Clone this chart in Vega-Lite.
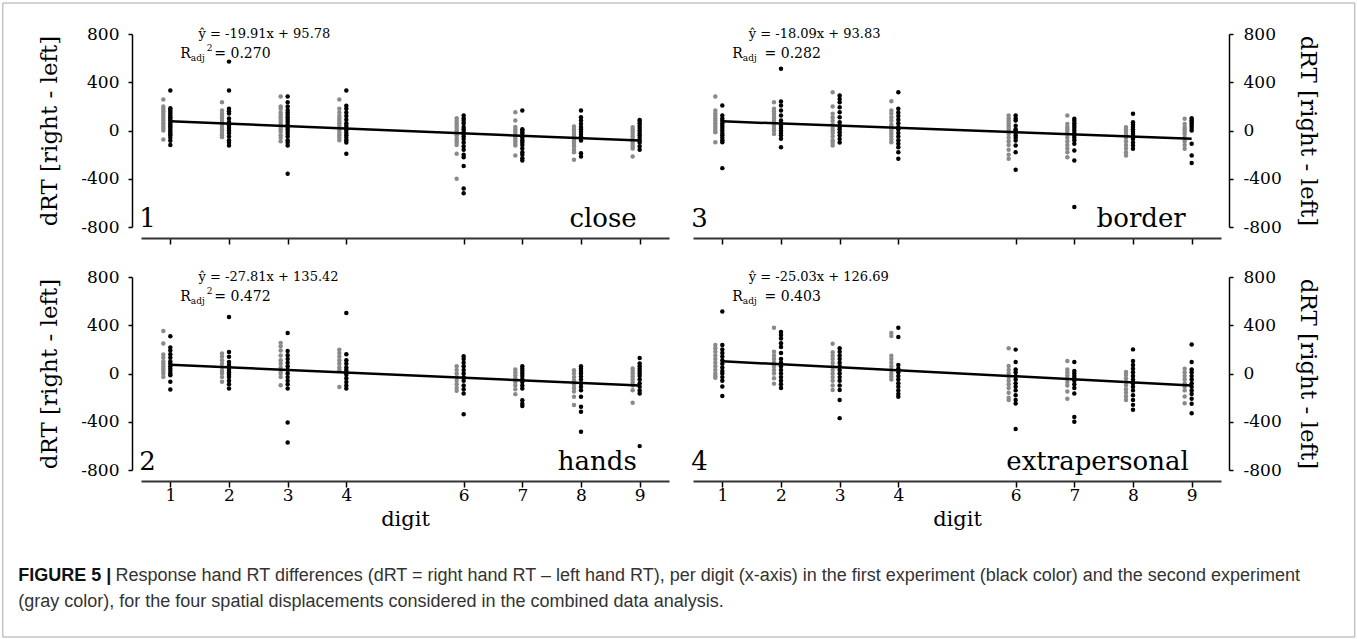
{
"$schema": "https://vega.github.io/schema/vega-lite/v6.json",
"padding": 2,
"background": "white",
"config": {
 "view": {"stroke": null},
 "axis": {"grid": false, "tickColor": "#000", "tickWidth": 1.5, "domainColor": "#000", "domainWidth": 1.5,
  "labelFont": "DejaVu Serif", "labelFontSize": 17, "labelColor": "#000",
  "titleFont": "DejaVu Serif", "titleFontSize": 23, "titleFontWeight": "normal", "titleColor": "#000"}
},
"datasets": {
 "fit": [
  {"p":1,"d":1,"v":75.87},{"p":1,"d":9,"v":-83.41},
  {"p":2,"d":1,"v":72},{"p":2,"d":9,"v":-100},
  {"p":3,"d":1,"v":75.74},{"p":3,"d":9,"v":-68.98},
  {"p":4,"d":1,"v":101.66},{"p":4,"d":9,"v":-98.58}
 ],
 "lab": [
  {"p":1,"num":"1","name":"close","eq":"ŷ = -19.91x + 95.78","sup":"2","r":"= 0.270"},
  {"p":2,"num":"2","name":"hands","eq":"ŷ = -27.81x + 135.42","sup":"2","r":"= 0.472"},
  {"p":3,"num":"3","name":"border","eq":"ŷ = -18.09x + 93.83","sup":"","r":"= 0.282"},
  {"p":4,"num":"4","name":"extrapersonal","eq":"ŷ = -25.03x + 126.69","sup":"","r":"= 0.403"}
 ],
 "cap": [
  {"fig":"FIGURE 5 |","l1":"Response hand RT differences (dRT = right hand RT – left hand RT), per digit (x-axis) in the first experiment (black color) and the second experiment","l2":"(gray color), for the four spatial displacements considered in the combined data analysis."}
 ],
 "pts": [
{"p":1,"d":1,"e":1,"v":331},{"p":1,"d":1,"e":1,"v":185},{"p":1,"d":1,"e":1,"v":170},{"p":1,"d":1,"e":1,"v":155},{"p":1,"d":1,"e":1,"v":140},{"p":1,"d":1,"e":1,"v":125},{"p":1,"d":1,"e":1,"v":110},{"p":1,"d":1,"e":1,"v":95},{"p":1,"d":1,"e":1,"v":80},{"p":1,"d":1,"e":1,"v":65},{"p":1,"d":1,"e":1,"v":50},{"p":1,"d":1,"e":1,"v":35},{"p":1,"d":1,"e":1,"v":20},{"p":1,"d":1,"e":1,"v":5},{"p":1,"d":1,"e":1,"v":-10},{"p":1,"d":1,"e":1,"v":-25},{"p":1,"d":1,"e":1,"v":-40},{"p":1,"d":1,"e":1,"v":-60},{"p":1,"d":1,"e":1,"v":-85},{"p":1,"d":1,"e":1,"v":-120},
{"p":1,"d":1,"e":2,"v":257},{"p":1,"d":1,"e":2,"v":200},{"p":1,"d":1,"e":2,"v":180},{"p":1,"d":1,"e":2,"v":160},{"p":1,"d":1,"e":2,"v":140},{"p":1,"d":1,"e":2,"v":120},{"p":1,"d":1,"e":2,"v":100},{"p":1,"d":1,"e":2,"v":80},{"p":1,"d":1,"e":2,"v":60},{"p":1,"d":1,"e":2,"v":40},{"p":1,"d":1,"e":2,"v":20},{"p":1,"d":1,"e":2,"v":0},{"p":1,"d":1,"e":2,"v":-75},
{"p":1,"d":2,"e":1,"v":571},{"p":1,"d":2,"e":1,"v":331},{"p":1,"d":2,"e":1,"v":180},{"p":1,"d":2,"e":1,"v":160},{"p":1,"d":2,"e":1,"v":140},{"p":1,"d":2,"e":1,"v":100},{"p":1,"d":2,"e":1,"v":70},{"p":1,"d":2,"e":1,"v":40},{"p":1,"d":2,"e":1,"v":20},{"p":1,"d":2,"e":1,"v":0},{"p":1,"d":2,"e":1,"v":-20},{"p":1,"d":2,"e":1,"v":-50},{"p":1,"d":2,"e":1,"v":-80},{"p":1,"d":2,"e":1,"v":-100},{"p":1,"d":2,"e":1,"v":-125},
{"p":1,"d":2,"e":2,"v":235},{"p":1,"d":2,"e":2,"v":165},{"p":1,"d":2,"e":2,"v":140},{"p":1,"d":2,"e":2,"v":120},{"p":1,"d":2,"e":2,"v":100},{"p":1,"d":2,"e":2,"v":80},{"p":1,"d":2,"e":2,"v":60},{"p":1,"d":2,"e":2,"v":40},{"p":1,"d":2,"e":2,"v":20},{"p":1,"d":2,"e":2,"v":0},{"p":1,"d":2,"e":2,"v":-20},{"p":1,"d":2,"e":2,"v":-40},{"p":1,"d":2,"e":2,"v":-55},
{"p":1,"d":3,"e":1,"v":282},{"p":1,"d":3,"e":1,"v":235},{"p":1,"d":3,"e":1,"v":200},{"p":1,"d":3,"e":1,"v":170},{"p":1,"d":3,"e":1,"v":150},{"p":1,"d":3,"e":1,"v":130},{"p":1,"d":3,"e":1,"v":110},{"p":1,"d":3,"e":1,"v":90},{"p":1,"d":3,"e":1,"v":70},{"p":1,"d":3,"e":1,"v":50},{"p":1,"d":3,"e":1,"v":30},{"p":1,"d":3,"e":1,"v":10},{"p":1,"d":3,"e":1,"v":-10},{"p":1,"d":3,"e":1,"v":-30},{"p":1,"d":3,"e":1,"v":-50},{"p":1,"d":3,"e":1,"v":-80},{"p":1,"d":3,"e":1,"v":-100},{"p":1,"d":3,"e":1,"v":-125},{"p":1,"d":3,"e":1,"v":-359},
{"p":1,"d":3,"e":2,"v":282},{"p":1,"d":3,"e":2,"v":200},{"p":1,"d":3,"e":2,"v":180},{"p":1,"d":3,"e":2,"v":150},{"p":1,"d":3,"e":2,"v":130},{"p":1,"d":3,"e":2,"v":110},{"p":1,"d":3,"e":2,"v":90},{"p":1,"d":3,"e":2,"v":70},{"p":1,"d":3,"e":2,"v":50},{"p":1,"d":3,"e":2,"v":30},{"p":1,"d":3,"e":2,"v":10},{"p":1,"d":3,"e":2,"v":-10},{"p":1,"d":3,"e":2,"v":-40},{"p":1,"d":3,"e":2,"v":-60},{"p":1,"d":3,"e":2,"v":-90},
{"p":1,"d":4,"e":1,"v":331},{"p":1,"d":4,"e":1,"v":205},{"p":1,"d":4,"e":1,"v":180},{"p":1,"d":4,"e":1,"v":150},{"p":1,"d":4,"e":1,"v":120},{"p":1,"d":4,"e":1,"v":90},{"p":1,"d":4,"e":1,"v":60},{"p":1,"d":4,"e":1,"v":40},{"p":1,"d":4,"e":1,"v":20},{"p":1,"d":4,"e":1,"v":0},{"p":1,"d":4,"e":1,"v":-20},{"p":1,"d":4,"e":1,"v":-40},{"p":1,"d":4,"e":1,"v":-60},{"p":1,"d":4,"e":1,"v":-80},{"p":1,"d":4,"e":1,"v":-100},{"p":1,"d":4,"e":1,"v":-193},
{"p":1,"d":4,"e":2,"v":257},{"p":1,"d":4,"e":2,"v":180},{"p":1,"d":4,"e":2,"v":150},{"p":1,"d":4,"e":2,"v":120},{"p":1,"d":4,"e":2,"v":100},{"p":1,"d":4,"e":2,"v":80},{"p":1,"d":4,"e":2,"v":60},{"p":1,"d":4,"e":2,"v":40},{"p":1,"d":4,"e":2,"v":20},{"p":1,"d":4,"e":2,"v":0},{"p":1,"d":4,"e":2,"v":-20},{"p":1,"d":4,"e":2,"v":-40},{"p":1,"d":4,"e":2,"v":-60},{"p":1,"d":4,"e":2,"v":-80},
{"p":1,"d":6,"e":1,"v":124},{"p":1,"d":6,"e":1,"v":100},{"p":1,"d":6,"e":1,"v":80},{"p":1,"d":6,"e":1,"v":60},{"p":1,"d":6,"e":1,"v":30},{"p":1,"d":6,"e":1,"v":10},{"p":1,"d":6,"e":1,"v":-10},{"p":1,"d":6,"e":1,"v":-30},{"p":1,"d":6,"e":1,"v":-50},{"p":1,"d":6,"e":1,"v":-70},{"p":1,"d":6,"e":1,"v":-100},{"p":1,"d":6,"e":1,"v":-130},{"p":1,"d":6,"e":1,"v":-160},{"p":1,"d":6,"e":1,"v":-200},{"p":1,"d":6,"e":1,"v":-221},{"p":1,"d":6,"e":1,"v":-295},{"p":1,"d":6,"e":1,"v":-480},{"p":1,"d":6,"e":1,"v":-520},
{"p":1,"d":6,"e":2,"v":102},{"p":1,"d":6,"e":2,"v":80},{"p":1,"d":6,"e":2,"v":60},{"p":1,"d":6,"e":2,"v":40},{"p":1,"d":6,"e":2,"v":20},{"p":1,"d":6,"e":2,"v":0},{"p":1,"d":6,"e":2,"v":-20},{"p":1,"d":6,"e":2,"v":-40},{"p":1,"d":6,"e":2,"v":-60},{"p":1,"d":6,"e":2,"v":-80},{"p":1,"d":6,"e":2,"v":-100},{"p":1,"d":6,"e":2,"v":-120},{"p":1,"d":6,"e":2,"v":-193},{"p":1,"d":6,"e":2,"v":-400},
{"p":1,"d":7,"e":1,"v":166},{"p":1,"d":7,"e":1,"v":10},{"p":1,"d":7,"e":1,"v":0},{"p":1,"d":7,"e":1,"v":-15},{"p":1,"d":7,"e":1,"v":-30},{"p":1,"d":7,"e":1,"v":-45},{"p":1,"d":7,"e":1,"v":-60},{"p":1,"d":7,"e":1,"v":-80},{"p":1,"d":7,"e":1,"v":-100},{"p":1,"d":7,"e":1,"v":-120},{"p":1,"d":7,"e":1,"v":-150},{"p":1,"d":7,"e":1,"v":-180},{"p":1,"d":7,"e":1,"v":-200},{"p":1,"d":7,"e":1,"v":-230},{"p":1,"d":7,"e":1,"v":-248},
{"p":1,"d":7,"e":2,"v":152},{"p":1,"d":7,"e":2,"v":83},{"p":1,"d":7,"e":2,"v":30},{"p":1,"d":7,"e":2,"v":10},{"p":1,"d":7,"e":2,"v":-10},{"p":1,"d":7,"e":2,"v":-30},{"p":1,"d":7,"e":2,"v":-50},{"p":1,"d":7,"e":2,"v":-70},{"p":1,"d":7,"e":2,"v":-90},{"p":1,"d":7,"e":2,"v":-110},{"p":1,"d":7,"e":2,"v":-124},{"p":1,"d":7,"e":2,"v":-207},
{"p":1,"d":8,"e":1,"v":166},{"p":1,"d":8,"e":1,"v":110},{"p":1,"d":8,"e":1,"v":83},{"p":1,"d":8,"e":1,"v":55},{"p":1,"d":8,"e":1,"v":30},{"p":1,"d":8,"e":1,"v":10},{"p":1,"d":8,"e":1,"v":-10},{"p":1,"d":8,"e":1,"v":-30},{"p":1,"d":8,"e":1,"v":-50},{"p":1,"d":8,"e":1,"v":-70},{"p":1,"d":8,"e":1,"v":-83},{"p":1,"d":8,"e":1,"v":-188},{"p":1,"d":8,"e":1,"v":-215},
{"p":1,"d":8,"e":2,"v":33},{"p":1,"d":8,"e":2,"v":10},{"p":1,"d":8,"e":2,"v":-10},{"p":1,"d":8,"e":2,"v":-30},{"p":1,"d":8,"e":2,"v":-50},{"p":1,"d":8,"e":2,"v":-70},{"p":1,"d":8,"e":2,"v":-90},{"p":1,"d":8,"e":2,"v":-110},{"p":1,"d":8,"e":2,"v":-130},{"p":1,"d":8,"e":2,"v":-160},{"p":1,"d":8,"e":2,"v":-180},{"p":1,"d":8,"e":2,"v":-243},
{"p":1,"d":9,"e":1,"v":88},{"p":1,"d":9,"e":1,"v":80},{"p":1,"d":9,"e":1,"v":60},{"p":1,"d":9,"e":1,"v":40},{"p":1,"d":9,"e":1,"v":20},{"p":1,"d":9,"e":1,"v":0},{"p":1,"d":9,"e":1,"v":-20},{"p":1,"d":9,"e":1,"v":-40},{"p":1,"d":9,"e":1,"v":-60},{"p":1,"d":9,"e":1,"v":-80},{"p":1,"d":9,"e":1,"v":-100},{"p":1,"d":9,"e":1,"v":-130},{"p":1,"d":9,"e":1,"v":-160},
{"p":1,"d":9,"e":2,"v":28},{"p":1,"d":9,"e":2,"v":10},{"p":1,"d":9,"e":2,"v":-10},{"p":1,"d":9,"e":2,"v":-30},{"p":1,"d":9,"e":2,"v":-50},{"p":1,"d":9,"e":2,"v":-70},{"p":1,"d":9,"e":2,"v":-90},{"p":1,"d":9,"e":2,"v":-110},{"p":1,"d":9,"e":2,"v":-130},{"p":1,"d":9,"e":2,"v":-150},{"p":1,"d":9,"e":2,"v":-215},

{"p":3,"d":1,"e":1,"v":207},{"p":3,"d":1,"e":1,"v":124},{"p":3,"d":1,"e":1,"v":100},{"p":3,"d":1,"e":1,"v":80},{"p":3,"d":1,"e":1,"v":60},{"p":3,"d":1,"e":1,"v":40},{"p":3,"d":1,"e":1,"v":20},{"p":3,"d":1,"e":1,"v":0},{"p":3,"d":1,"e":1,"v":-20},{"p":3,"d":1,"e":1,"v":-40},{"p":3,"d":1,"e":1,"v":-60},{"p":3,"d":1,"e":1,"v":-80},{"p":3,"d":1,"e":1,"v":-98},{"p":3,"d":1,"e":1,"v":-312},
{"p":3,"d":1,"e":2,"v":282},{"p":3,"d":1,"e":2,"v":166},{"p":3,"d":1,"e":2,"v":140},{"p":3,"d":1,"e":2,"v":120},{"p":3,"d":1,"e":2,"v":100},{"p":3,"d":1,"e":2,"v":80},{"p":3,"d":1,"e":2,"v":60},{"p":3,"d":1,"e":2,"v":40},{"p":3,"d":1,"e":2,"v":20},{"p":3,"d":1,"e":2,"v":0},{"p":3,"d":1,"e":2,"v":-14},{"p":3,"d":1,"e":2,"v":-98},
{"p":3,"d":2,"e":1,"v":511},{"p":3,"d":2,"e":1,"v":240},{"p":3,"d":2,"e":1,"v":207},{"p":3,"d":2,"e":1,"v":166},{"p":3,"d":2,"e":1,"v":124},{"p":3,"d":2,"e":1,"v":83},{"p":3,"d":2,"e":1,"v":60},{"p":3,"d":2,"e":1,"v":40},{"p":3,"d":2,"e":1,"v":20},{"p":3,"d":2,"e":1,"v":0},{"p":3,"d":2,"e":1,"v":-20},{"p":3,"d":2,"e":1,"v":-40},{"p":3,"d":2,"e":1,"v":-69},{"p":3,"d":2,"e":1,"v":-138},
{"p":3,"d":2,"e":2,"v":235},{"p":3,"d":2,"e":2,"v":180},{"p":3,"d":2,"e":2,"v":160},{"p":3,"d":2,"e":2,"v":140},{"p":3,"d":2,"e":2,"v":120},{"p":3,"d":2,"e":2,"v":100},{"p":3,"d":2,"e":2,"v":80},{"p":3,"d":2,"e":2,"v":60},{"p":3,"d":2,"e":2,"v":40},{"p":3,"d":2,"e":2,"v":20},{"p":3,"d":2,"e":2,"v":0},{"p":3,"d":2,"e":2,"v":-28},
{"p":3,"d":3,"e":1,"v":290},{"p":3,"d":3,"e":1,"v":262},{"p":3,"d":3,"e":1,"v":235},{"p":3,"d":3,"e":1,"v":193},{"p":3,"d":3,"e":1,"v":152},{"p":3,"d":3,"e":1,"v":110},{"p":3,"d":3,"e":1,"v":69},{"p":3,"d":3,"e":1,"v":40},{"p":3,"d":3,"e":1,"v":28},{"p":3,"d":3,"e":1,"v":10},{"p":3,"d":3,"e":1,"v":-14},{"p":3,"d":3,"e":1,"v":-40},{"p":3,"d":3,"e":1,"v":-70},{"p":3,"d":3,"e":1,"v":-100},
{"p":3,"d":3,"e":2,"v":317},{"p":3,"d":3,"e":2,"v":199},{"p":3,"d":3,"e":2,"v":140},{"p":3,"d":3,"e":2,"v":110},{"p":3,"d":3,"e":2,"v":80},{"p":3,"d":3,"e":2,"v":50},{"p":3,"d":3,"e":2,"v":20},{"p":3,"d":3,"e":2,"v":0},{"p":3,"d":3,"e":2,"v":-20},{"p":3,"d":3,"e":2,"v":-50},{"p":3,"d":3,"e":2,"v":-80},{"p":3,"d":3,"e":2,"v":-100},{"p":3,"d":3,"e":2,"v":-124},
{"p":3,"d":4,"e":1,"v":317},{"p":3,"d":4,"e":1,"v":180},{"p":3,"d":4,"e":1,"v":150},{"p":3,"d":4,"e":1,"v":120},{"p":3,"d":4,"e":1,"v":90},{"p":3,"d":4,"e":1,"v":60},{"p":3,"d":4,"e":1,"v":30},{"p":3,"d":4,"e":1,"v":10},{"p":3,"d":4,"e":1,"v":-20},{"p":3,"d":4,"e":1,"v":-50},{"p":3,"d":4,"e":1,"v":-80},{"p":3,"d":4,"e":1,"v":-110},{"p":3,"d":4,"e":1,"v":-138},{"p":3,"d":4,"e":1,"v":-180},{"p":3,"d":4,"e":1,"v":-235},
{"p":3,"d":4,"e":2,"v":243},{"p":3,"d":4,"e":2,"v":166},{"p":3,"d":4,"e":2,"v":140},{"p":3,"d":4,"e":2,"v":110},{"p":3,"d":4,"e":2,"v":80},{"p":3,"d":4,"e":2,"v":50},{"p":3,"d":4,"e":2,"v":30},{"p":3,"d":4,"e":2,"v":10},{"p":3,"d":4,"e":2,"v":-10},{"p":3,"d":4,"e":2,"v":-30},{"p":3,"d":4,"e":2,"v":-50},{"p":3,"d":4,"e":2,"v":-75},{"p":3,"d":4,"e":2,"v":-98},
{"p":3,"d":6,"e":1,"v":124},{"p":3,"d":6,"e":1,"v":100},{"p":3,"d":6,"e":1,"v":83},{"p":3,"d":6,"e":1,"v":40},{"p":3,"d":6,"e":1,"v":10},{"p":3,"d":6,"e":1,"v":0},{"p":3,"d":6,"e":1,"v":-20},{"p":3,"d":6,"e":1,"v":-41},{"p":3,"d":6,"e":1,"v":-60},{"p":3,"d":6,"e":1,"v":-83},{"p":3,"d":6,"e":1,"v":-124},{"p":3,"d":6,"e":1,"v":-180},{"p":3,"d":6,"e":1,"v":-326},
{"p":3,"d":6,"e":2,"v":124},{"p":3,"d":6,"e":2,"v":100},{"p":3,"d":6,"e":2,"v":80},{"p":3,"d":6,"e":2,"v":60},{"p":3,"d":6,"e":2,"v":40},{"p":3,"d":6,"e":2,"v":20},{"p":3,"d":6,"e":2,"v":0},{"p":3,"d":6,"e":2,"v":-30},{"p":3,"d":6,"e":2,"v":-60},{"p":3,"d":6,"e":2,"v":-90},{"p":3,"d":6,"e":2,"v":-120},{"p":3,"d":6,"e":2,"v":-160},{"p":3,"d":6,"e":2,"v":-200},{"p":3,"d":6,"e":2,"v":-235},
{"p":3,"d":7,"e":1,"v":97},{"p":3,"d":7,"e":1,"v":80},{"p":3,"d":7,"e":1,"v":60},{"p":3,"d":7,"e":1,"v":40},{"p":3,"d":7,"e":1,"v":20},{"p":3,"d":7,"e":1,"v":0},{"p":3,"d":7,"e":1,"v":-20},{"p":3,"d":7,"e":1,"v":-40},{"p":3,"d":7,"e":1,"v":-60},{"p":3,"d":7,"e":1,"v":-80},{"p":3,"d":7,"e":1,"v":-110},{"p":3,"d":7,"e":1,"v":-166},{"p":3,"d":7,"e":1,"v":-248},{"p":3,"d":7,"e":1,"v":-635},
{"p":3,"d":7,"e":2,"v":124},{"p":3,"d":7,"e":2,"v":55},{"p":3,"d":7,"e":2,"v":30},{"p":3,"d":7,"e":2,"v":10},{"p":3,"d":7,"e":2,"v":-10},{"p":3,"d":7,"e":2,"v":-30},{"p":3,"d":7,"e":2,"v":-60},{"p":3,"d":7,"e":2,"v":-90},{"p":3,"d":7,"e":2,"v":-120},{"p":3,"d":7,"e":2,"v":-150},{"p":3,"d":7,"e":2,"v":-180},{"p":3,"d":7,"e":2,"v":-221},
{"p":3,"d":8,"e":1,"v":138},{"p":3,"d":8,"e":1,"v":69},{"p":3,"d":8,"e":1,"v":50},{"p":3,"d":8,"e":1,"v":30},{"p":3,"d":8,"e":1,"v":10},{"p":3,"d":8,"e":1,"v":-10},{"p":3,"d":8,"e":1,"v":-30},{"p":3,"d":8,"e":1,"v":-50},{"p":3,"d":8,"e":1,"v":-70},{"p":3,"d":8,"e":1,"v":-100},{"p":3,"d":8,"e":1,"v":-125},{"p":3,"d":8,"e":1,"v":-152},
{"p":3,"d":8,"e":2,"v":28},{"p":3,"d":8,"e":2,"v":10},{"p":3,"d":8,"e":2,"v":-10},{"p":3,"d":8,"e":2,"v":-30},{"p":3,"d":8,"e":2,"v":-60},{"p":3,"d":8,"e":2,"v":-90},{"p":3,"d":8,"e":2,"v":-120},{"p":3,"d":8,"e":2,"v":-150},{"p":3,"d":8,"e":2,"v":-180},{"p":3,"d":8,"e":2,"v":-207},
{"p":3,"d":9,"e":1,"v":102},{"p":3,"d":9,"e":1,"v":85},{"p":3,"d":9,"e":1,"v":70},{"p":3,"d":9,"e":1,"v":55},{"p":3,"d":9,"e":1,"v":40},{"p":3,"d":9,"e":1,"v":20},{"p":3,"d":9,"e":1,"v":0},{"p":3,"d":9,"e":1,"v":-110},{"p":3,"d":9,"e":1,"v":-207},{"p":3,"d":9,"e":1,"v":-270},
{"p":3,"d":9,"e":2,"v":97},{"p":3,"d":9,"e":2,"v":55},{"p":3,"d":9,"e":2,"v":30},{"p":3,"d":9,"e":2,"v":10},{"p":3,"d":9,"e":2,"v":-10},{"p":3,"d":9,"e":2,"v":-30},{"p":3,"d":9,"e":2,"v":-60},{"p":3,"d":9,"e":2,"v":-90},{"p":3,"d":9,"e":2,"v":-120},{"p":3,"d":9,"e":2,"v":-152},

{"p":2,"d":1,"e":1,"v":309},{"p":2,"d":1,"e":1,"v":215},{"p":2,"d":1,"e":1,"v":190},{"p":2,"d":1,"e":1,"v":160},{"p":2,"d":1,"e":1,"v":130},{"p":2,"d":1,"e":1,"v":100},{"p":2,"d":1,"e":1,"v":80},{"p":2,"d":1,"e":1,"v":60},{"p":2,"d":1,"e":1,"v":40},{"p":2,"d":1,"e":1,"v":20},{"p":2,"d":1,"e":1,"v":0},{"p":2,"d":1,"e":1,"v":-14},{"p":2,"d":1,"e":1,"v":-69},{"p":2,"d":1,"e":1,"v":-133},
{"p":2,"d":1,"e":2,"v":353},{"p":2,"d":1,"e":2,"v":248},{"p":2,"d":1,"e":2,"v":157},{"p":2,"d":1,"e":2,"v":130},{"p":2,"d":1,"e":2,"v":100},{"p":2,"d":1,"e":2,"v":80},{"p":2,"d":1,"e":2,"v":60},{"p":2,"d":1,"e":2,"v":40},{"p":2,"d":1,"e":2,"v":20},{"p":2,"d":1,"e":2,"v":0},{"p":2,"d":1,"e":2,"v":-28},
{"p":2,"d":2,"e":1,"v":469},{"p":2,"d":2,"e":1,"v":179},{"p":2,"d":2,"e":1,"v":138},{"p":2,"d":2,"e":1,"v":96},{"p":2,"d":2,"e":1,"v":70},{"p":2,"d":2,"e":1,"v":50},{"p":2,"d":2,"e":1,"v":30},{"p":2,"d":2,"e":1,"v":10},{"p":2,"d":2,"e":1,"v":-10},{"p":2,"d":2,"e":1,"v":-30},{"p":2,"d":2,"e":1,"v":-60},{"p":2,"d":2,"e":1,"v":-90},{"p":2,"d":2,"e":1,"v":-125},
{"p":2,"d":2,"e":2,"v":165},{"p":2,"d":2,"e":2,"v":140},{"p":2,"d":2,"e":2,"v":110},{"p":2,"d":2,"e":2,"v":80},{"p":2,"d":2,"e":2,"v":50},{"p":2,"d":2,"e":2,"v":20},{"p":2,"d":2,"e":2,"v":0},{"p":2,"d":2,"e":2,"v":-30},{"p":2,"d":2,"e":2,"v":-69},
{"p":2,"d":3,"e":1,"v":336},{"p":2,"d":3,"e":1,"v":187},{"p":2,"d":3,"e":1,"v":151},{"p":2,"d":3,"e":1,"v":120},{"p":2,"d":3,"e":1,"v":90},{"p":2,"d":3,"e":1,"v":60},{"p":2,"d":3,"e":1,"v":30},{"p":2,"d":3,"e":1,"v":0},{"p":2,"d":3,"e":1,"v":-30},{"p":2,"d":3,"e":1,"v":-60},{"p":2,"d":3,"e":1,"v":-90},{"p":2,"d":3,"e":1,"v":-125},{"p":2,"d":3,"e":1,"v":-406},{"p":2,"d":3,"e":1,"v":-572},
{"p":2,"d":3,"e":2,"v":254},{"p":2,"d":3,"e":2,"v":226},{"p":2,"d":3,"e":2,"v":190},{"p":2,"d":3,"e":2,"v":150},{"p":2,"d":3,"e":2,"v":110},{"p":2,"d":3,"e":2,"v":80},{"p":2,"d":3,"e":2,"v":50},{"p":2,"d":3,"e":2,"v":20},{"p":2,"d":3,"e":2,"v":0},{"p":2,"d":3,"e":2,"v":-28},{"p":2,"d":3,"e":2,"v":-97},
{"p":2,"d":4,"e":1,"v":502},{"p":2,"d":4,"e":1,"v":160},{"p":2,"d":4,"e":1,"v":110},{"p":2,"d":4,"e":1,"v":80},{"p":2,"d":4,"e":1,"v":50},{"p":2,"d":4,"e":1,"v":30},{"p":2,"d":4,"e":1,"v":10},{"p":2,"d":4,"e":1,"v":-10},{"p":2,"d":4,"e":1,"v":-40},{"p":2,"d":4,"e":1,"v":-70},{"p":2,"d":4,"e":1,"v":-100},{"p":2,"d":4,"e":1,"v":-125},
{"p":2,"d":4,"e":2,"v":198},{"p":2,"d":4,"e":2,"v":170},{"p":2,"d":4,"e":2,"v":140},{"p":2,"d":4,"e":2,"v":110},{"p":2,"d":4,"e":2,"v":80},{"p":2,"d":4,"e":2,"v":50},{"p":2,"d":4,"e":2,"v":27},{"p":2,"d":4,"e":2,"v":-111},
{"p":2,"d":6,"e":1,"v":143},{"p":2,"d":6,"e":1,"v":120},{"p":2,"d":6,"e":1,"v":90},{"p":2,"d":6,"e":1,"v":60},{"p":2,"d":6,"e":1,"v":30},{"p":2,"d":6,"e":1,"v":0},{"p":2,"d":6,"e":1,"v":-30},{"p":2,"d":6,"e":1,"v":-60},{"p":2,"d":6,"e":1,"v":-100},{"p":2,"d":6,"e":1,"v":-130},{"p":2,"d":6,"e":1,"v":-166},{"p":2,"d":6,"e":1,"v":-337},
{"p":2,"d":6,"e":2,"v":60},{"p":2,"d":6,"e":2,"v":30},{"p":2,"d":6,"e":2,"v":0},{"p":2,"d":6,"e":2,"v":-30},{"p":2,"d":6,"e":2,"v":-60},{"p":2,"d":6,"e":2,"v":-90},{"p":2,"d":6,"e":2,"v":-120},{"p":2,"d":6,"e":2,"v":-144},
{"p":2,"d":7,"e":1,"v":60},{"p":2,"d":7,"e":1,"v":40},{"p":2,"d":7,"e":1,"v":20},{"p":2,"d":7,"e":1,"v":0},{"p":2,"d":7,"e":1,"v":-20},{"p":2,"d":7,"e":1,"v":-45},{"p":2,"d":7,"e":1,"v":-70},{"p":2,"d":7,"e":1,"v":-100},{"p":2,"d":7,"e":1,"v":-125},{"p":2,"d":7,"e":1,"v":-221},{"p":2,"d":7,"e":1,"v":-250},{"p":2,"d":7,"e":1,"v":-270},
{"p":2,"d":7,"e":2,"v":33},{"p":2,"d":7,"e":2,"v":10},{"p":2,"d":7,"e":2,"v":-15},{"p":2,"d":7,"e":2,"v":-40},{"p":2,"d":7,"e":2,"v":-70},{"p":2,"d":7,"e":2,"v":-100},{"p":2,"d":7,"e":2,"v":-130},{"p":2,"d":7,"e":2,"v":-171},
{"p":2,"d":8,"e":1,"v":60},{"p":2,"d":8,"e":1,"v":40},{"p":2,"d":8,"e":1,"v":20},{"p":2,"d":8,"e":1,"v":0},{"p":2,"d":8,"e":1,"v":-25},{"p":2,"d":8,"e":1,"v":-50},{"p":2,"d":8,"e":1,"v":-80},{"p":2,"d":8,"e":1,"v":-110},{"p":2,"d":8,"e":1,"v":-138},{"p":2,"d":8,"e":1,"v":-193},{"p":2,"d":8,"e":1,"v":-276},{"p":2,"d":8,"e":1,"v":-317},{"p":2,"d":8,"e":1,"v":-483},
{"p":2,"d":8,"e":2,"v":27},{"p":2,"d":8,"e":2,"v":0},{"p":2,"d":8,"e":2,"v":-30},{"p":2,"d":8,"e":2,"v":-60},{"p":2,"d":8,"e":2,"v":-90},{"p":2,"d":8,"e":2,"v":-120},{"p":2,"d":8,"e":2,"v":-150},{"p":2,"d":8,"e":2,"v":-193},{"p":2,"d":8,"e":2,"v":-262},
{"p":2,"d":9,"e":1,"v":129},{"p":2,"d":9,"e":1,"v":82},{"p":2,"d":9,"e":1,"v":60},{"p":2,"d":9,"e":1,"v":40},{"p":2,"d":9,"e":1,"v":20},{"p":2,"d":9,"e":1,"v":0},{"p":2,"d":9,"e":1,"v":-20},{"p":2,"d":9,"e":1,"v":-50},{"p":2,"d":9,"e":1,"v":-80},{"p":2,"d":9,"e":1,"v":-110},{"p":2,"d":9,"e":1,"v":-140},{"p":2,"d":9,"e":1,"v":-166},{"p":2,"d":9,"e":1,"v":-602},
{"p":2,"d":9,"e":2,"v":41},{"p":2,"d":9,"e":2,"v":20},{"p":2,"d":9,"e":2,"v":0},{"p":2,"d":9,"e":2,"v":-25},{"p":2,"d":9,"e":2,"v":-50},{"p":2,"d":9,"e":2,"v":-75},{"p":2,"d":9,"e":2,"v":-100},{"p":2,"d":9,"e":2,"v":-138},{"p":2,"d":9,"e":2,"v":-243},

{"p":4,"d":1,"e":1,"v":514},{"p":4,"d":1,"e":1,"v":237},{"p":4,"d":1,"e":1,"v":200},{"p":4,"d":1,"e":1,"v":170},{"p":4,"d":1,"e":1,"v":140},{"p":4,"d":1,"e":1,"v":110},{"p":4,"d":1,"e":1,"v":80},{"p":4,"d":1,"e":1,"v":50},{"p":4,"d":1,"e":1,"v":20},{"p":4,"d":1,"e":1,"v":0},{"p":4,"d":1,"e":1,"v":-30},{"p":4,"d":1,"e":1,"v":-60},{"p":4,"d":1,"e":1,"v":-107},{"p":4,"d":1,"e":1,"v":-187},
{"p":4,"d":1,"e":2,"v":237},{"p":4,"d":1,"e":2,"v":210},{"p":4,"d":1,"e":2,"v":180},{"p":4,"d":1,"e":2,"v":150},{"p":4,"d":1,"e":2,"v":120},{"p":4,"d":1,"e":2,"v":90},{"p":4,"d":1,"e":2,"v":60},{"p":4,"d":1,"e":2,"v":30},{"p":4,"d":1,"e":2,"v":0},{"p":4,"d":1,"e":2,"v":-20},{"p":4,"d":1,"e":2,"v":-36},
{"p":4,"d":2,"e":1,"v":345},{"p":4,"d":2,"e":1,"v":320},{"p":4,"d":2,"e":1,"v":290},{"p":4,"d":2,"e":1,"v":250},{"p":4,"d":2,"e":1,"v":220},{"p":4,"d":2,"e":1,"v":170},{"p":4,"d":2,"e":1,"v":120},{"p":4,"d":2,"e":1,"v":90},{"p":4,"d":2,"e":1,"v":60},{"p":4,"d":2,"e":1,"v":30},{"p":4,"d":2,"e":1,"v":0},{"p":4,"d":2,"e":1,"v":-30},{"p":4,"d":2,"e":1,"v":-60},{"p":4,"d":2,"e":1,"v":-90},{"p":4,"d":2,"e":1,"v":-121},
{"p":4,"d":2,"e":2,"v":379},{"p":4,"d":2,"e":2,"v":181},{"p":4,"d":2,"e":2,"v":150},{"p":4,"d":2,"e":2,"v":120},{"p":4,"d":2,"e":2,"v":90},{"p":4,"d":2,"e":2,"v":60},{"p":4,"d":2,"e":2,"v":30},{"p":4,"d":2,"e":2,"v":0},{"p":4,"d":2,"e":2,"v":-40},{"p":4,"d":2,"e":2,"v":-84},
{"p":4,"d":3,"e":1,"v":209},{"p":4,"d":3,"e":1,"v":180},{"p":4,"d":3,"e":1,"v":150},{"p":4,"d":3,"e":1,"v":120},{"p":4,"d":3,"e":1,"v":90},{"p":4,"d":3,"e":1,"v":60},{"p":4,"d":3,"e":1,"v":30},{"p":4,"d":3,"e":1,"v":0},{"p":4,"d":3,"e":1,"v":-30},{"p":4,"d":3,"e":1,"v":-60},{"p":4,"d":3,"e":1,"v":-100},{"p":4,"d":3,"e":1,"v":-136},{"p":4,"d":3,"e":1,"v":-219},{"p":4,"d":3,"e":1,"v":-370},
{"p":4,"d":3,"e":2,"v":246},{"p":4,"d":3,"e":2,"v":176},{"p":4,"d":3,"e":2,"v":148},{"p":4,"d":3,"e":2,"v":120},{"p":4,"d":3,"e":2,"v":90},{"p":4,"d":3,"e":2,"v":60},{"p":4,"d":3,"e":2,"v":30},{"p":4,"d":3,"e":2,"v":0},{"p":4,"d":3,"e":2,"v":-30},{"p":4,"d":3,"e":2,"v":-60},{"p":4,"d":3,"e":2,"v":-100},{"p":4,"d":3,"e":2,"v":-136},
{"p":4,"d":4,"e":1,"v":379},{"p":4,"d":4,"e":1,"v":303},{"p":4,"d":4,"e":1,"v":71},{"p":4,"d":4,"e":1,"v":40},{"p":4,"d":4,"e":1,"v":10},{"p":4,"d":4,"e":1,"v":-20},{"p":4,"d":4,"e":1,"v":-50},{"p":4,"d":4,"e":1,"v":-80},{"p":4,"d":4,"e":1,"v":-110},{"p":4,"d":4,"e":1,"v":-140},{"p":4,"d":4,"e":1,"v":-170},{"p":4,"d":4,"e":1,"v":-193},
{"p":4,"d":4,"e":2,"v":335},{"p":4,"d":4,"e":2,"v":311},{"p":4,"d":4,"e":2,"v":148},{"p":4,"d":4,"e":2,"v":120},{"p":4,"d":4,"e":2,"v":90},{"p":4,"d":4,"e":2,"v":60},{"p":4,"d":4,"e":2,"v":30},{"p":4,"d":4,"e":2,"v":0},{"p":4,"d":4,"e":2,"v":-25},{"p":4,"d":4,"e":2,"v":-50},
{"p":4,"d":6,"e":1,"v":198},{"p":4,"d":6,"e":1,"v":96},{"p":4,"d":6,"e":1,"v":34},{"p":4,"d":6,"e":1,"v":10},{"p":4,"d":6,"e":1,"v":-20},{"p":4,"d":6,"e":1,"v":-50},{"p":4,"d":6,"e":1,"v":-80},{"p":4,"d":6,"e":1,"v":-110},{"p":4,"d":6,"e":1,"v":-140},{"p":4,"d":6,"e":1,"v":-180},{"p":4,"d":6,"e":1,"v":-220},{"p":4,"d":6,"e":1,"v":-248},{"p":4,"d":6,"e":1,"v":-460},
{"p":4,"d":6,"e":2,"v":209},{"p":4,"d":6,"e":2,"v":62},{"p":4,"d":6,"e":2,"v":30},{"p":4,"d":6,"e":2,"v":0},{"p":4,"d":6,"e":2,"v":-30},{"p":4,"d":6,"e":2,"v":-60},{"p":4,"d":6,"e":2,"v":-90},{"p":4,"d":6,"e":2,"v":-120},{"p":4,"d":6,"e":2,"v":-160},{"p":4,"d":6,"e":2,"v":-200},{"p":4,"d":6,"e":2,"v":-220},
{"p":4,"d":7,"e":1,"v":96},{"p":4,"d":7,"e":1,"v":20},{"p":4,"d":7,"e":1,"v":0},{"p":4,"d":7,"e":1,"v":-20},{"p":4,"d":7,"e":1,"v":-40},{"p":4,"d":7,"e":1,"v":-60},{"p":4,"d":7,"e":1,"v":-90},{"p":4,"d":7,"e":1,"v":-120},{"p":4,"d":7,"e":1,"v":-165},{"p":4,"d":7,"e":1,"v":-360},{"p":4,"d":7,"e":1,"v":-400},
{"p":4,"d":7,"e":2,"v":104},{"p":4,"d":7,"e":2,"v":34},{"p":4,"d":7,"e":2,"v":10},{"p":4,"d":7,"e":2,"v":-15},{"p":4,"d":7,"e":2,"v":-40},{"p":4,"d":7,"e":2,"v":-70},{"p":4,"d":7,"e":2,"v":-100},{"p":4,"d":7,"e":2,"v":-150},{"p":4,"d":7,"e":2,"v":-210},
{"p":4,"d":8,"e":1,"v":200},{"p":4,"d":8,"e":1,"v":104},{"p":4,"d":8,"e":1,"v":70},{"p":4,"d":8,"e":1,"v":40},{"p":4,"d":8,"e":1,"v":10},{"p":4,"d":8,"e":1,"v":-20},{"p":4,"d":8,"e":1,"v":-50},{"p":4,"d":8,"e":1,"v":-80},{"p":4,"d":8,"e":1,"v":-110},{"p":4,"d":8,"e":1,"v":-140},{"p":4,"d":8,"e":1,"v":-180},{"p":4,"d":8,"e":1,"v":-220},{"p":4,"d":8,"e":1,"v":-260},{"p":4,"d":8,"e":1,"v":-300},
{"p":4,"d":8,"e":2,"v":12},{"p":4,"d":8,"e":2,"v":-10},{"p":4,"d":8,"e":2,"v":-40},{"p":4,"d":8,"e":2,"v":-70},{"p":4,"d":8,"e":2,"v":-100},{"p":4,"d":8,"e":2,"v":-130},{"p":4,"d":8,"e":2,"v":-160},{"p":4,"d":8,"e":2,"v":-190},{"p":4,"d":8,"e":2,"v":-220},
{"p":4,"d":9,"e":1,"v":240},{"p":4,"d":9,"e":1,"v":96},{"p":4,"d":9,"e":1,"v":34},{"p":4,"d":9,"e":1,"v":10},{"p":4,"d":9,"e":1,"v":-20},{"p":4,"d":9,"e":1,"v":-50},{"p":4,"d":9,"e":1,"v":-80},{"p":4,"d":9,"e":1,"v":-110},{"p":4,"d":9,"e":1,"v":-140},{"p":4,"d":9,"e":1,"v":-170},{"p":4,"d":9,"e":1,"v":-210},{"p":4,"d":9,"e":1,"v":-250},{"p":4,"d":9,"e":1,"v":-330},
{"p":4,"d":9,"e":2,"v":40},{"p":4,"d":9,"e":2,"v":10},{"p":4,"d":9,"e":2,"v":-20},{"p":4,"d":9,"e":2,"v":-50},{"p":4,"d":9,"e":2,"v":-80},{"p":4,"d":9,"e":2,"v":-110},{"p":4,"d":9,"e":2,"v":-140},{"p":4,"d":9,"e":2,"v":-190},{"p":4,"d":9,"e":2,"v":-246}
 ]
},
"columns": 2,
"spacing": {"row": 50, "column": 24},
"bounds": "flush",
"concat": [
 {
  "width": 528, "height": 193,
  "layer": [
   {"data": {"name": "pts"}, "transform": [{"filter": "datum.p==1 && datum.e==2"}],
    "mark": {"type": "circle", "size": 20, "opacity": 1, "color": "#8a8a8a", "xOffset": -7},
    "encoding": {
     "x": {"field": "d", "type": "quantitative", "scale": {"domain": [0.5, 9.5], "nice": false, "zero": false},
      "axis": {"orient": "bottom", "offset": 11, "values": [1,2,3,4,6,7,8,9], "labels": false, "title": null, "tickSize": 6, "domainColor": "#333", "domainWidth": 2}},
     "y": {"field": "v", "type": "quantitative", "scale": {"domain": [-800, 800], "nice": false},
      "axis": {"orient": "left", "offset": 9, "values": [-800,-400,0,400,800], "labelExpr": "'' + datum.value", "title": "dRT [right - left]", "tickSize": 4, "labelPadding": 9, "titlePadding": 19}}}},
   {"data": {"name": "pts"}, "transform": [{"filter": "datum.p==1 && datum.e==1"}],
    "mark": {"type": "circle", "size": 20, "opacity": 1, "color": "#000"},
    "encoding": {"x": {"field": "d", "type": "quantitative"}, "y": {"field": "v", "type": "quantitative"}}},
   {"data": {"name": "fit"}, "transform": [{"filter": "datum.p==1"}],
    "mark": {"type": "line", "color": "#000", "strokeWidth": 2.5},
    "encoding": {"x": {"field": "d", "type": "quantitative"}, "y": {"field": "v", "type": "quantitative"}}},
   {"data": {"name": "lab"}, "transform": [{"filter": "datum.p==1"}],
    "layer": [
     {"mark": {"type": "text", "align": "left", "baseline": "alphabetic", "font": "DejaVu Serif", "fontSize": 26, "color": "#000"},
      "encoding": {"x": {"datum": 0.47, "type": "quantitative"}, "y": {"datum": -800, "type": "quantitative"}, "text": {"field": "num"}}},
     {"mark": {"type": "text", "align": "right", "baseline": "alphabetic", "font": "DejaVu Serif", "fontSize": 26, "color": "#000"},
      "encoding": {"x": {"datum": 8.95, "type": "quantitative"}, "y": {"datum": -800, "type": "quantitative"}, "text": {"field": "name"}}},
     {"mark": {"type": "text", "align": "left", "baseline": "alphabetic", "font": "DejaVu Serif", "fontSize": 13, "color": "#000"},
      "encoding": {"x": {"datum": 1.48, "type": "quantitative"}, "y": {"datum": 763, "type": "quantitative"}, "text": {"field": "eq"}}},
     {"mark": {"type": "text", "align": "left", "baseline": "alphabetic", "font": "DejaVu Serif", "fontSize": 14, "color": "#000"},
      "encoding": {"x": {"datum": 1.17, "type": "quantitative"}, "y": {"datum": 601, "type": "quantitative"}, "text": {"value": "R"}}},
     {"mark": {"type": "text", "align": "left", "baseline": "alphabetic", "font": "DejaVu Serif", "fontSize": 9, "color": "#000"},
      "encoding": {"x": {"datum": 1.35, "type": "quantitative"}, "y": {"datum": 578, "type": "quantitative"}, "text": {"value": "adj"}}},
     {"mark": {"type": "text", "align": "center", "baseline": "alphabetic", "font": "DejaVu Serif", "fontSize": 9, "color": "#000"},
      "encoding": {"x": {"datum": 1.67, "type": "quantitative"}, "y": {"datum": 662, "type": "quantitative"}, "text": {"field": "sup"}}},
     {"mark": {"type": "text", "align": "left", "baseline": "alphabetic", "font": "DejaVu Serif", "fontSize": 14, "color": "#000"},
      "encoding": {"x": {"datum": 1.75, "type": "quantitative"}, "y": {"datum": 601, "type": "quantitative"}, "text": {"field": "r"}}}
    ]}
  ]
 },
 {
  "width": 528, "height": 193,
  "layer": [
   {"data": {"name": "pts"}, "transform": [{"filter": "datum.p==3 && datum.e==2"}],
    "mark": {"type": "circle", "size": 20, "opacity": 1, "color": "#8a8a8a", "xOffset": -7},
    "encoding": {
     "x": {"field": "d", "type": "quantitative", "scale": {"domain": [0.5, 9.5], "nice": false, "zero": false},
      "axis": {"orient": "bottom", "offset": 11, "values": [1,2,3,4,6,7,8,9], "labels": false, "title": null, "tickSize": 6, "domainColor": "#333", "domainWidth": 2}},
     "y": {"field": "v", "type": "quantitative", "scale": {"domain": [-800, 800], "nice": false},
      "axis": {"orient": "right", "offset": 8, "values": [-800,-400,0,400,800], "labelExpr": "'' + datum.value", "title": "dRT [right - left]", "tickSize": 4, "labelPadding": 10, "titlePadding": 14}}}},
   {"data": {"name": "pts"}, "transform": [{"filter": "datum.p==3 && datum.e==1"}],
    "mark": {"type": "circle", "size": 20, "opacity": 1, "color": "#000"},
    "encoding": {"x": {"field": "d", "type": "quantitative"}, "y": {"field": "v", "type": "quantitative"}}},
   {"data": {"name": "fit"}, "transform": [{"filter": "datum.p==3"}],
    "mark": {"type": "line", "color": "#000", "strokeWidth": 2.5},
    "encoding": {"x": {"field": "d", "type": "quantitative"}, "y": {"field": "v", "type": "quantitative"}}},
   {"data": {"name": "lab"}, "transform": [{"filter": "datum.p==3"}],
    "layer": [
     {"mark": {"type": "text", "align": "left", "baseline": "alphabetic", "font": "DejaVu Serif", "fontSize": 26, "color": "#000"},
      "encoding": {"x": {"datum": 0.47, "type": "quantitative"}, "y": {"datum": -800, "type": "quantitative"}, "text": {"field": "num"}}},
     {"mark": {"type": "text", "align": "right", "baseline": "alphabetic", "font": "DejaVu Serif", "fontSize": 26, "color": "#000"},
      "encoding": {"x": {"datum": 8.9, "type": "quantitative"}, "y": {"datum": -800, "type": "quantitative"}, "text": {"field": "name"}}},
     {"mark": {"type": "text", "align": "left", "baseline": "alphabetic", "font": "DejaVu Serif", "fontSize": 13, "color": "#000"},
      "encoding": {"x": {"datum": 1.45, "type": "quantitative"}, "y": {"datum": 763, "type": "quantitative"}, "text": {"field": "eq"}}},
     {"mark": {"type": "text", "align": "left", "baseline": "alphabetic", "font": "DejaVu Serif", "fontSize": 14, "color": "#000"},
      "encoding": {"x": {"datum": 1.17, "type": "quantitative"}, "y": {"datum": 601, "type": "quantitative"}, "text": {"value": "R"}}},
     {"mark": {"type": "text", "align": "left", "baseline": "alphabetic", "font": "DejaVu Serif", "fontSize": 9, "color": "#000"},
      "encoding": {"x": {"datum": 1.35, "type": "quantitative"}, "y": {"datum": 578, "type": "quantitative"}, "text": {"value": "adj"}}},
     {"mark": {"type": "text", "align": "left", "baseline": "alphabetic", "font": "DejaVu Serif", "fontSize": 14, "color": "#000"},
      "encoding": {"x": {"datum": 1.72, "type": "quantitative"}, "y": {"datum": 601, "type": "quantitative"}, "text": {"field": "r"}}}
    ]}
  ]
 },
 {
  "width": 528, "height": 193,
  "layer": [
   {"data": {"name": "pts"}, "transform": [{"filter": "datum.p==2 && datum.e==2"}],
    "mark": {"type": "circle", "size": 20, "opacity": 1, "color": "#8a8a8a", "xOffset": -7},
    "encoding": {
     "x": {"field": "d", "type": "quantitative", "scale": {"domain": [0.5, 9.5], "nice": false, "zero": false},
      "axis": {"orient": "bottom", "offset": 11, "values": [1,2,3,4,6,7,8,9], "format": "d", "title": "digit", "titleFontSize": 21, "tickSize": 6, "labelPadding": 0, "titlePadding": 5, "domainColor": "#333", "domainWidth": 2}},
     "y": {"field": "v", "type": "quantitative", "scale": {"domain": [-800, 800], "nice": false},
      "axis": {"orient": "left", "offset": 9, "values": [-800,-400,0,400,800], "labelExpr": "'' + datum.value", "title": "dRT [right - left]", "tickSize": 4, "labelPadding": 9, "titlePadding": 19}}}},
   {"data": {"name": "pts"}, "transform": [{"filter": "datum.p==2 && datum.e==1"}],
    "mark": {"type": "circle", "size": 20, "opacity": 1, "color": "#000"},
    "encoding": {"x": {"field": "d", "type": "quantitative"}, "y": {"field": "v", "type": "quantitative"}}},
   {"data": {"name": "fit"}, "transform": [{"filter": "datum.p==2"}],
    "mark": {"type": "line", "color": "#000", "strokeWidth": 2.5},
    "encoding": {"x": {"field": "d", "type": "quantitative"}, "y": {"field": "v", "type": "quantitative"}}},
   {"data": {"name": "lab"}, "transform": [{"filter": "datum.p==2"}],
    "layer": [
     {"mark": {"type": "text", "align": "left", "baseline": "alphabetic", "font": "DejaVu Serif", "fontSize": 26, "color": "#000"},
      "encoding": {"x": {"datum": 0.47, "type": "quantitative"}, "y": {"datum": -800, "type": "quantitative"}, "text": {"field": "num"}}},
     {"mark": {"type": "text", "align": "right", "baseline": "alphabetic", "font": "DejaVu Serif", "fontSize": 26, "color": "#000"},
      "encoding": {"x": {"datum": 8.95, "type": "quantitative"}, "y": {"datum": -800, "type": "quantitative"}, "text": {"field": "name"}}},
     {"mark": {"type": "text", "align": "left", "baseline": "alphabetic", "font": "DejaVu Serif", "fontSize": 13, "color": "#000"},
      "encoding": {"x": {"datum": 1.48, "type": "quantitative"}, "y": {"datum": 763, "type": "quantitative"}, "text": {"field": "eq"}}},
     {"mark": {"type": "text", "align": "left", "baseline": "alphabetic", "font": "DejaVu Serif", "fontSize": 14, "color": "#000"},
      "encoding": {"x": {"datum": 1.17, "type": "quantitative"}, "y": {"datum": 601, "type": "quantitative"}, "text": {"value": "R"}}},
     {"mark": {"type": "text", "align": "left", "baseline": "alphabetic", "font": "DejaVu Serif", "fontSize": 9, "color": "#000"},
      "encoding": {"x": {"datum": 1.35, "type": "quantitative"}, "y": {"datum": 578, "type": "quantitative"}, "text": {"value": "adj"}}},
     {"mark": {"type": "text", "align": "center", "baseline": "alphabetic", "font": "DejaVu Serif", "fontSize": 9, "color": "#000"},
      "encoding": {"x": {"datum": 1.67, "type": "quantitative"}, "y": {"datum": 662, "type": "quantitative"}, "text": {"field": "sup"}}},
     {"mark": {"type": "text", "align": "left", "baseline": "alphabetic", "font": "DejaVu Serif", "fontSize": 14, "color": "#000"},
      "encoding": {"x": {"datum": 1.75, "type": "quantitative"}, "y": {"datum": 601, "type": "quantitative"}, "text": {"field": "r"}}}
    ]}
  ]
 },
 {
  "width": 528, "height": 193,
  "layer": [
   {"data": {"name": "pts"}, "transform": [{"filter": "datum.p==4 && datum.e==2"}],
    "mark": {"type": "circle", "size": 20, "opacity": 1, "color": "#8a8a8a", "xOffset": -7},
    "encoding": {
     "x": {"field": "d", "type": "quantitative", "scale": {"domain": [0.5, 9.5], "nice": false, "zero": false},
      "axis": {"orient": "bottom", "offset": 11, "values": [1,2,3,4,6,7,8,9], "format": "d", "title": "digit", "titleFontSize": 21, "tickSize": 6, "labelPadding": 0, "titlePadding": 5, "domainColor": "#333", "domainWidth": 2}},
     "y": {"field": "v", "type": "quantitative", "scale": {"domain": [-800, 800], "nice": false},
      "axis": {"orient": "right", "offset": 8, "values": [-800,-400,0,400,800], "labelExpr": "'' + datum.value", "title": "dRT [right - left]", "tickSize": 4, "labelPadding": 10, "titlePadding": 14}}}},
   {"data": {"name": "pts"}, "transform": [{"filter": "datum.p==4 && datum.e==1"}],
    "mark": {"type": "circle", "size": 20, "opacity": 1, "color": "#000"},
    "encoding": {"x": {"field": "d", "type": "quantitative"}, "y": {"field": "v", "type": "quantitative"}}},
   {"data": {"name": "fit"}, "transform": [{"filter": "datum.p==4"}],
    "mark": {"type": "line", "color": "#000", "strokeWidth": 2.5},
    "encoding": {"x": {"field": "d", "type": "quantitative"}, "y": {"field": "v", "type": "quantitative"}}},
   {"data": {"name": "lab"}, "transform": [{"filter": "datum.p==4"}],
    "layer": [
     {"mark": {"type": "text", "align": "left", "baseline": "alphabetic", "font": "DejaVu Serif", "fontSize": 26, "color": "#000"},
      "encoding": {"x": {"datum": 0.47, "type": "quantitative"}, "y": {"datum": -800, "type": "quantitative"}, "text": {"field": "num"}}},
     {"mark": {"type": "text", "align": "right", "baseline": "alphabetic", "font": "DejaVu Serif", "fontSize": 26, "color": "#000"},
      "encoding": {"x": {"datum": 8.95, "type": "quantitative"}, "y": {"datum": -800, "type": "quantitative"}, "text": {"field": "name"}}},
     {"mark": {"type": "text", "align": "left", "baseline": "alphabetic", "font": "DejaVu Serif", "fontSize": 13, "color": "#000"},
      "encoding": {"x": {"datum": 1.45, "type": "quantitative"}, "y": {"datum": 763, "type": "quantitative"}, "text": {"field": "eq"}}},
     {"mark": {"type": "text", "align": "left", "baseline": "alphabetic", "font": "DejaVu Serif", "fontSize": 14, "color": "#000"},
      "encoding": {"x": {"datum": 1.17, "type": "quantitative"}, "y": {"datum": 601, "type": "quantitative"}, "text": {"value": "R"}}},
     {"mark": {"type": "text", "align": "left", "baseline": "alphabetic", "font": "DejaVu Serif", "fontSize": 9, "color": "#000"},
      "encoding": {"x": {"datum": 1.35, "type": "quantitative"}, "y": {"datum": 578, "type": "quantitative"}, "text": {"value": "adj"}}},
     {"mark": {"type": "text", "align": "left", "baseline": "alphabetic", "font": "DejaVu Serif", "fontSize": 14, "color": "#000"},
      "encoding": {"x": {"datum": 1.72, "type": "quantitative"}, "y": {"datum": 601, "type": "quantitative"}, "text": {"field": "r"}}}
    ]}
  ]
 },
 {
  "width": 528, "height": 100,
  "data": {"name": "cap"},
  "layer": [
   {"mark": {"type": "rect", "filled": false, "color": "#a8a8a8", "strokeWidth": 1},
    "encoding": {
     "x": {"datum": -138.2, "type": "quantitative", "scale": {"domain": [0, 528], "nice": false, "zero": false}, "axis": null},
     "x2": {"datum": 1213.8},
     "y": {"datum": -517, "type": "quantitative", "scale": {"domain": [0, 100], "nice": false, "zero": false, "reverse": true}, "axis": null},
     "y2": {"datum": 117}}},
   {"mark": {"type": "text", "align": "left", "baseline": "middle", "font": "Liberation Sans", "fontSize": 18, "fontWeight": "bold", "color": "#111"},
    "encoding": {"x": {"datum": -122.7, "type": "quantitative", "axis": null}, "y": {"datum": 55.5, "type": "quantitative", "axis": null}, "text": {"field": "fig"}}},
   {"mark": {"type": "text", "align": "left", "baseline": "middle", "font": "Liberation Sans", "fontSize": 18, "color": "#333"},
    "encoding": {"x": {"datum": -25.5, "type": "quantitative", "axis": null}, "y": {"datum": 55.5, "type": "quantitative", "axis": null}, "text": {"field": "l1"}}},
   {"mark": {"type": "text", "align": "left", "baseline": "middle", "font": "Liberation Sans", "fontSize": 18, "color": "#333"},
    "encoding": {"x": {"datum": -122.7, "type": "quantitative", "axis": null}, "y": {"datum": 81.5, "type": "quantitative", "axis": null}, "text": {"field": "l2"}}}
  ]
 }
]
}
